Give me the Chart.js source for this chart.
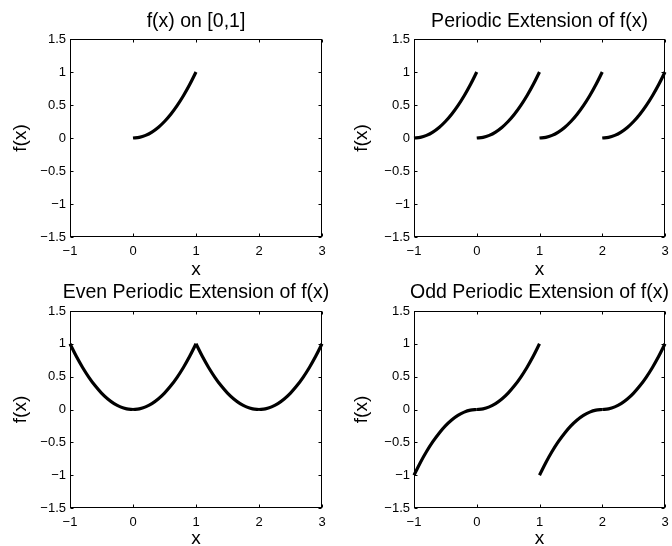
<!DOCTYPE html>
<html><head><meta charset="utf-8">
<script src="https://cdn.jsdelivr.net/npm/chart.js@4/dist/chart.umd.min.js"></script>
<style>
html,body{margin:0;padding:0;background:#fff;overflow:hidden;width:672px;height:546px;position:relative}
.p{position:absolute}
</style></head><body>
<div class="p" id="d0"><canvas id="c0"></canvas></div>
<div class="p" id="d1"><canvas id="c1"></canvas></div>
<div class="p" id="d2"><canvas id="c2"></canvas></div>
<div class="p" id="d3"><canvas id="c3"></canvas></div>
<script>
// ---- data ----
const xTicks = [-1, 0, 1, 2, 3];
const xTickLabels = ['\u22121', '0', '1', '2', '3'];
const yTicks = [-1.5, -1, -0.5, 0, 0.5, 1, 1.5];
const yTickLabels = ['\u22121.5', '\u22121', '\u22120.5', '0', '0.5', '1', '1.5'];

const xSegA = [-1, -0.9, -0.8, -0.7, -0.6, -0.5, -0.4, -0.3, -0.2, -0.1, 0];
const xSegB = [0, 0.1, 0.2, 0.3, 0.4, 0.5, 0.6, 0.7, 0.8, 0.9, 1];
const xSegC = [1, 1.1, 1.2, 1.3, 1.4, 1.5, 1.6, 1.7, 1.8, 1.9, 2];
const xSegD = [2, 2.1, 2.2, 2.3, 2.4, 2.5, 2.6, 2.7, 2.8, 2.9, 3];

const yRise = [0, 0.01, 0.04, 0.09, 0.16, 0.25, 0.36, 0.49, 0.64, 0.81, 1];
const yFall = [1, 0.81, 0.64, 0.49, 0.36, 0.25, 0.16, 0.09, 0.04, 0.01, 0];
const yOddRise = [-1, -0.81, -0.64, -0.49, -0.36, -0.25, -0.16, -0.09, -0.04, -0.01, 0];

const titles = ['f(x) on [0,1]', 'Periodic Extension of f(x)', 'Even Periodic Extension of f(x)', 'Odd Periodic Extension of f(x)'];
const xLabel = 'x';
const yLabel = 'f(x)';

const panelSegments = [
  [[xSegB, yRise]],
  [[xSegA, yRise], [xSegB, yRise], [xSegC, yRise], [xSegD, yRise]],
  [[xSegA, yFall], [xSegB, yRise], [xSegC, yFall], [xSegD, yRise]],
  [[xSegA, yOddRise], [xSegB, yRise], [xSegC, yOddRise], [xSegD, yRise]]
];

// ---- layout (positions only) ----
const layouts = [
  {left: 0,   top: 0,   w: 392, h: 290, yw: 70, xh: 53, tT: 9.8,  tB: 5.8, xtp: 9,  ytp: 9.6},
  {left: 336, top: 0,   w: 407, h: 290, yw: 78, xh: 53, tT: 9.8,  tB: 5.8, xtp: 9,  ytp: 14.6},
  {left: 0,   top: 260, w: 392, h: 300, yw: 70, xh: 52, tT: 21.3, tB: 6.3, xtp: 10, ytp: 9.6},
  {left: 336, top: 260, w: 407, h: 300, yw: 78, xh: 52, tT: 21.3, tB: 6.3, xtp: 10, ytp: 14.6}
];

Chart.defaults.font.family = '"Liberation Sans", Arial, Helvetica, sans-serif';
Chart.defaults.color = '#000';

const boxPlugin = {
  id: 'matlabBox',
  afterDatasetsDraw(chart) {
    const {ctx, chartArea} = chart;
    const xs = chart.scales.x, ys = chart.scales.y;
    const L = Math.round(chartArea.left) + 0.5, R = Math.round(chartArea.right) - 0.5;
    const T = Math.round(chartArea.top) + 0.5, B = Math.round(chartArea.bottom) - 0.5;
    ctx.save();
    ctx.strokeStyle = '#000';
    ctx.lineWidth = 1;
    ctx.strokeRect(L, T, R - L, B - T);
    const tl = 3;
    ctx.beginPath();
    xTicks.forEach(v => {
      const px = Math.round(xs.getPixelForValue(v)) + 0.5;
      ctx.moveTo(px, B); ctx.lineTo(px, B - tl);
      ctx.moveTo(px, T); ctx.lineTo(px, T + tl);
    });
    yTicks.forEach(v => {
      const py = Math.round(ys.getPixelForValue(v)) + 0.5;
      ctx.moveTo(L, py); ctx.lineTo(L + tl, py);
      ctx.moveTo(R, py); ctx.lineTo(R - tl, py);
    });
    ctx.stroke();
    ctx.restore();
  }
};

layouts.forEach((lay, i) => {
  const d = document.getElementById('d' + i);
  d.style.left = lay.left + 'px'; d.style.top = lay.top + 'px';
  d.style.width = lay.w + 'px'; d.style.height = lay.h + 'px';
  const datasets = panelSegments[i].map(([xs, ys]) => ({
    data: xs.map((x, k) => ({x: x, y: ys[k]})),
    borderColor: '#000',
    borderWidth: 3.2,
    pointRadius: 0,
    cubicInterpolationMode: 'monotone',
    fill: false,
    clip: false
  }));
  new Chart(document.getElementById('c' + i), {
    type: 'line',
    data: {datasets},
    plugins: [boxPlugin],
    options: {
      responsive: true,
      maintainAspectRatio: false,
      animation: false,
      events: [],
      layout: {padding: 0},
      plugins: {
        legend: {display: false},
        tooltip: {enabled: false},
        title: {
          display: true,
          text: titles[i],
          color: '#000',
          font: {size: 19.5, weight: 'normal'},
          padding: {top: lay.tT, bottom: lay.tB}
        }
      },
      scales: {
        x: {
          type: 'linear',
          position: 'bottom',
          min: -1, max: 3,
          afterBuildTicks: s => { s.ticks = xTicks.map(v => ({value: v})); },
          afterFit: s => { s.height = lay.xh; },
          ticks: {
            callback: (v, k) => xTickLabels[k],
            font: {size: 13},
            color: '#000',
            padding: 7,
            maxRotation: 0,
            autoSkip: false
          },
          grid: {display: false, drawTicks: false},
          border: {display: false},
          title: {display: true, text: xLabel, color: '#000', font: {size: 19}, padding: {top: 0, bottom: lay.xtp}}
        },
        y: {
          type: 'linear',
          position: 'left',
          min: -1.5, max: 1.5,
          afterBuildTicks: s => { s.ticks = yTicks.map(v => ({value: v})); },
          afterFit: s => { s.width = lay.yw; },
          ticks: {
            callback: (v, k) => yTickLabels[k],
            font: {size: 13},
            color: '#000',
            padding: 4,
            autoSkip: false
          },
          grid: {display: false, drawTicks: false},
          border: {display: false},
          title: {display: true, text: yLabel, color: '#000', font: {size: 19}, padding: {top: lay.ytp, bottom: 0}}
        },
        y2: {
          type: 'linear',
          position: 'right',
          min: -1.5, max: 1.5,
          afterFit: s => { s.width = lay.yw; },
          ticks: {display: false},
          grid: {display: false, drawTicks: false},
          border: {display: false}
        }
      }
    }
  });
});
</script>
</body></html>
